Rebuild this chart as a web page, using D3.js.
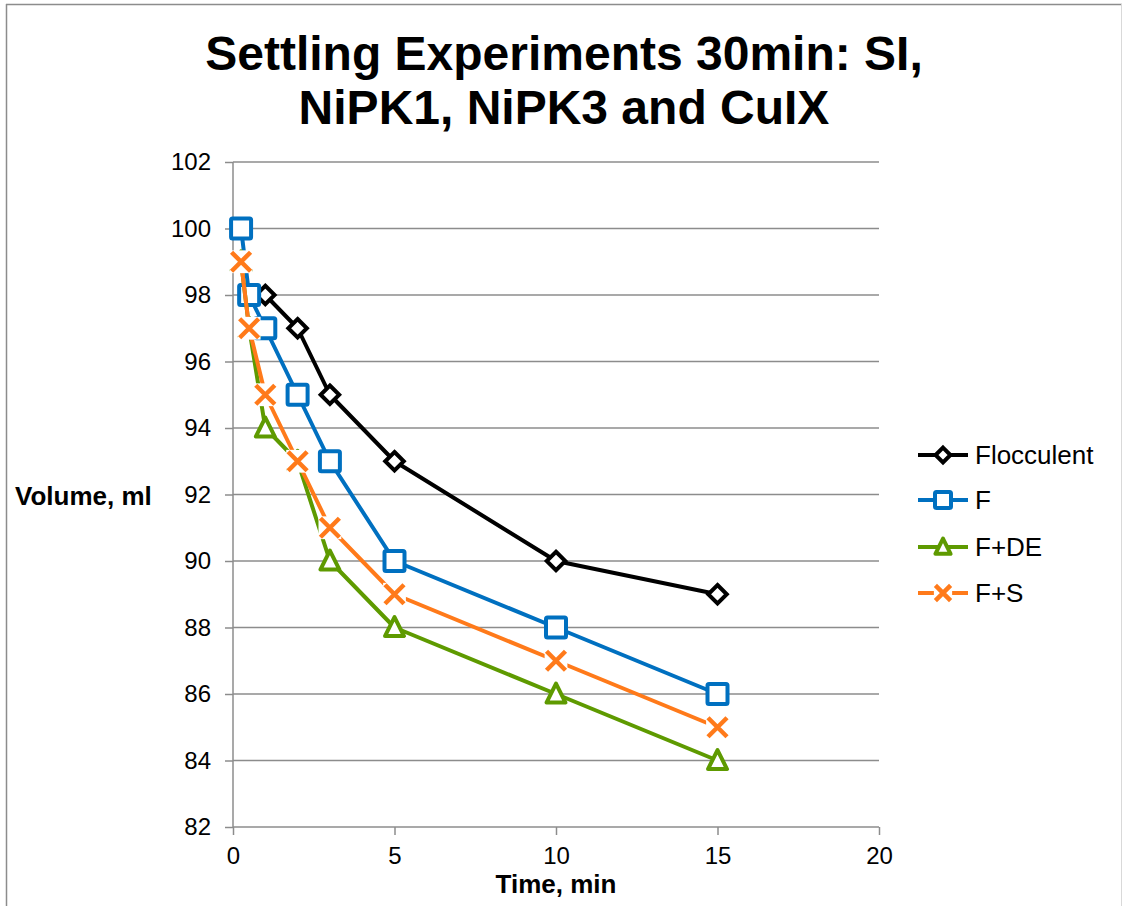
<!DOCTYPE html>
<html>
<head>
<meta charset="utf-8">
<script src="https://cdn.jsdelivr.net/npm/d3@7"></script>
<style>
  html, body { margin: 0; padding: 0; background: #fff; }
  svg { display: block; font-family: "Liberation Sans", Arial, sans-serif; }
</style>
</head>
<body>
<svg id="chart" width="1122" height="906"></svg>
<script>
// ---- Data ----
const titleLines = ["Settling Experiments 30min: SI,", "NiPK1, NiPK3 and CuIX"];
const xTicks = [0, 5, 10, 15, 20];
const yTicks = [82, 84, 86, 88, 90, 92, 94, 96, 98, 100, 102];
const seriesNames = ["Flocculent", "F", "F+DE", "F+S"];
const flocTime = [1, 2, 3, 5, 10, 15];
const flocVol  = [98, 97, 95, 93, 90, 89];
const fTime = [0.25, 0.5, 1, 2, 3, 5, 10, 15];
const fVol  = [100, 98, 97, 95, 93, 90, 88, 86];
const fdeTime = [0.25, 0.5, 1, 2, 3, 5, 10, 15];
const fdeVol  = [99, 97, 94, 93, 90, 88, 86, 84];
const fsTime = [0.25, 0.5, 1, 2, 3, 5, 10, 15];
const fsVol  = [99, 97, 95, 93, 91, 89, 87, 85];

const colors = ["#000000", "#0070C0", "#5E9A00", "#FF7A1A"];
const markers = ["diamond", "square", "triangle", "x"];

const series = [
  {name: seriesNames[0], t: flocTime, v: flocVol},
  {name: seriesNames[1], t: fTime, v: fVol},
  {name: seriesNames[2], t: fdeTime, v: fdeVol},
  {name: seriesNames[3], t: fsTime, v: fsVol}
].map((s, i) => ({...s, color: colors[i], marker: markers[i], pts: s.t.map((t, j) => [t, s.v[j]])}));

// ---- Layout ----
const svg = d3.select("#chart");
const W = 1122, H = 906;
const plot = {left: 233, right: 879, top: 162, bottom: 827};

const x = d3.scaleLinear().domain([0, 20]).range([plot.left, plot.right]);
const y = d3.scaleLinear().domain([82, 102]).range([plot.bottom, plot.top]);

// frame
svg.append("line").attr("x1", 6.5).attr("x2", 6.5).attr("y1", 4).attr("y2", H).attr("stroke", "#8c8c8c").attr("stroke-width", 1.5);
svg.append("line").attr("x1", 6).attr("x2", W).attr("y1", 4.5).attr("y2", 4.5).attr("stroke", "#8c8c8c").attr("stroke-width", 1.5);
svg.append("line").attr("x1", 1121.5).attr("x2", 1121.5).attr("y1", 4).attr("y2", H).attr("stroke", "#d9d9d9").attr("stroke-width", 1);

// title
svg.append("text").attr("x", 563).attr("text-anchor", "middle")
  .attr("font-size", 48).attr("font-weight", "bold").attr("fill", "#000")
  .selectAll("tspan").data(titleLines).join("tspan")
  .attr("x", 564).attr("y", (d, i) => 70 + i * 54).text(d => d);

// gridlines
svg.append("g").selectAll("line").data(yTicks.filter(d => d !== 82)).join("line")
  .attr("x1", plot.left).attr("x2", plot.right)
  .attr("y1", d => y(d)).attr("y2", d => y(d))
  .attr("stroke", "#8c8c8c").attr("stroke-width", 1.5);

// y axis
const yAxis = d3.axisLeft(y).tickValues(yTicks).tickSize(8).tickPadding(14).tickFormat(d3.format("d"));
const gy = svg.append("g").attr("transform", `translate(${plot.left},0)`).call(yAxis);
gy.select(".domain").attr("stroke", "#8c8c8c").attr("stroke-width", 1.5).attr("d", `M0,${plot.top}V${plot.bottom}`);
gy.selectAll(".tick line").attr("stroke", "#8c8c8c").attr("stroke-width", 1.5);
gy.selectAll(".tick text").attr("font-size", 24).attr("fill", "#000").attr("font-family", "Liberation Sans, Arial, sans-serif");

// x axis
const xAxis = d3.axisBottom(x).tickValues(xTicks).tickSize(8).tickPadding(12).tickFormat(d3.format("d"));
const gx = svg.append("g").attr("transform", `translate(0,${plot.bottom})`).call(xAxis);
gx.select(".domain").attr("stroke", "#8c8c8c").attr("stroke-width", 1.5).attr("d", `M${plot.left},0H${plot.right}`);
gx.selectAll(".tick line").attr("stroke", "#8c8c8c").attr("stroke-width", 1.5);
gx.selectAll(".tick text").attr("font-size", 24).attr("fill", "#000").attr("font-family", "Liberation Sans, Arial, sans-serif");

// axis titles
svg.append("text").attr("x", 556).attr("y", 893).attr("text-anchor", "middle")
  .attr("font-size", 26).attr("font-weight", "bold").text("Time, min");
svg.append("text").attr("x", 15).attr("y", 505).attr("text-anchor", "start")
  .attr("font-size", 26).attr("font-weight", "bold").text("Volume, ml");

// marker drawing
function drawMarker(g, type, color, size, sw) {
  const s = size;
  if (type === "square") {
    g.append("rect").attr("x", -s/2).attr("y", -s/2).attr("width", s).attr("height", s).attr("rx", 1.5)
      .attr("fill", "#fff").attr("stroke", color).attr("stroke-width", sw);
  } else if (type === "diamond") {
    const r = s * 0.58;
    g.append("path").attr("d", `M0,${-r}L${r},0L0,${r}L${-r},0Z`)
      .attr("fill", "#fff").attr("stroke", color).attr("stroke-width", sw).attr("stroke-linejoin", "miter");
  } else if (type === "triangle") {
    const h = s;
    g.append("path").attr("d", `M0,${-h*0.55}L${h*0.5},${h*0.45}L${-h*0.5},${h*0.45}Z`)
      .attr("fill", "#fff").attr("stroke", color).attr("stroke-width", sw).attr("stroke-linejoin", "round");
  } else if (type === "x") {
    const r = s * 0.5;
    const b = s * 0.6;
    g.append("rect").attr("x", -b).attr("y", -b).attr("width", 2*b).attr("height", 2*b).attr("fill", "#fff");
    const d = `M${-r},${-r}L${r},${r}M${-r},${r}L${r},${-r}`;
    g.append("path").attr("d", d).attr("stroke", color).attr("stroke-width", sw + 0.5).attr("fill", "none");
  }
}

const line = d3.line().x(d => x(d[0])).y(d => y(d[1]));
const sizes = {square: 20, diamond: 16, triangle: 19, x: 19};

series.forEach(s => {
  const g = svg.append("g");
  g.append("path").datum(s.pts).attr("d", line).attr("fill", "none")
    .attr("stroke", s.color).attr("stroke-width", 4).attr("stroke-linejoin", "round");
  s.pts.forEach(p => {
    const mg = g.append("g").attr("transform", `translate(${x(p[0])},${y(p[1])})`);
    drawMarker(mg, s.marker, s.color, sizes[s.marker], 4);
  });
});

// legend
const legY = [455, 500, 547, 593];
series.forEach((s, i) => {
  const g = svg.append("g").attr("transform", `translate(0,${legY[i]})`);
  g.append("line").attr("x1", 918).attr("x2", 968).attr("y1", 0).attr("y2", 0)
    .attr("stroke", s.color).attr("stroke-width", 4);
  const mg = g.append("g").attr("transform", "translate(943,0)");
  drawMarker(mg, s.marker, s.color, sizes[s.marker] * 0.8, 4);
  g.append("text").attr("x", 975).attr("y", 0).attr("dy", "0.35em")
    .attr("font-size", 26).attr("fill", "#000").text(s.name);
});
</script>
</body>
</html>
